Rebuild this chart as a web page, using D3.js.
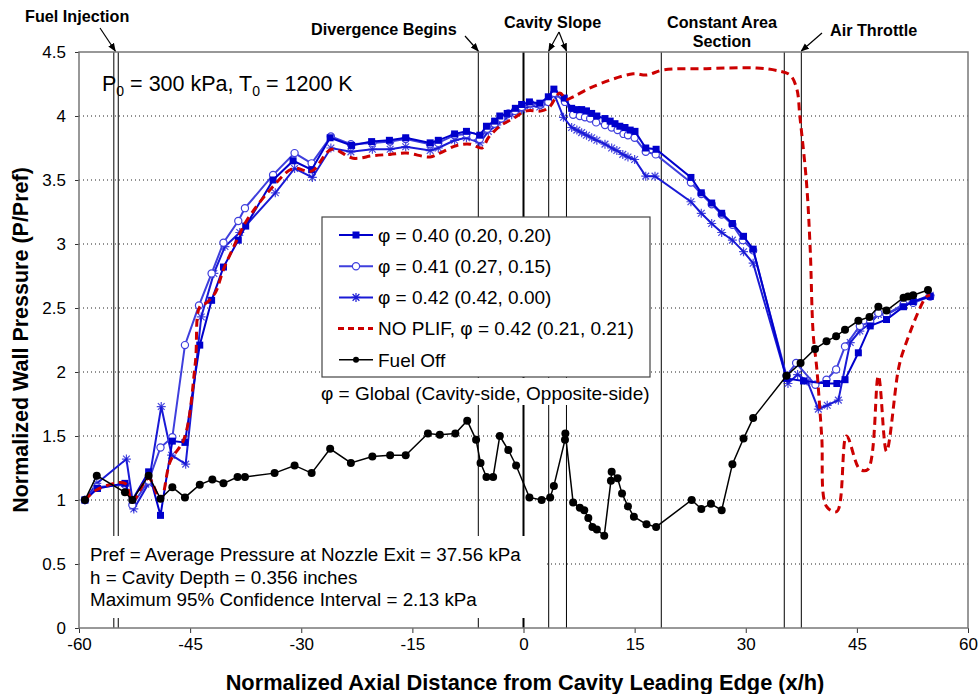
<!DOCTYPE html>
<html><head><meta charset="utf-8">
<script src="https://cdn.jsdelivr.net/npm/d3@7"></script>
<style>
body{margin:0;background:#fff;}
svg text{font-family:Arial,"Liberation Sans",sans-serif;}
</style></head>
<body><svg id="c" width="979" height="694"></svg>
<script>
// ---- data ----
const xTicks = [-60,-45,-30,-15,0,15,30,45,60];
const yTicks = [0,0.5,1,1.5,2,2.5,3,3.5,4,4.5];

const phi40 = [[-59.2,1.00],[-57.5,1.09],[-53.8,1.13],[-52.8,1.00],[-50.6,1.22],[-49.0,0.88],[-47.4,1.46],[-45.7,1.45],[-43.7,2.21],[-42.1,2.56],[-40.5,2.82],[-38.5,3.03],[-37.5,3.14],[-33.8,3.50],[-31.1,3.65],[-28.6,3.58],[-26.1,3.83],[-23.2,3.77],[-20.5,3.80],[-18.1,3.81],[-15.9,3.83],[-12.6,3.79],[-11.5,3.81],[-9.3,3.86],[-7.7,3.88],[-5.9,3.85],[-5.0,3.92],[-3.9,3.96],[-3.2,4.00],[-2.2,4.02],[-1.1,4.06],[-0.25,4.09],[0.8,4.11],[2.2,4.10],[3.35,4.15],[4.1,4.21],[5.5,4.14],[6.5,4.06],[7.2,4.05],[7.85,4.05],[8.5,4.04],[9.2,4.02],[9.9,4.00],[11.0,3.98],[11.7,3.96],[12.35,3.94],[13.0,3.92],[13.7,3.91],[14.4,3.89],[15.05,3.88],[16.5,3.75],[17.9,3.74],[22.6,3.52],[24.0,3.40],[25.4,3.32],[26.75,3.24],[28.2,3.16],[29.7,3.06],[31.0,2.96],[35.5,1.95],[37.8,1.93],[40.9,1.91],[42.3,1.91],[43.4,1.94],[45.2,2.15],[46.8,2.36],[49.0,2.41],[51.3,2.51],[52.6,2.55],[54.9,2.59]];

const phi41 = [[-59.2,1.00],[-57.6,1.10],[-53.8,1.12],[-52.8,0.96],[-50.6,1.15],[-49.0,1.41],[-47.4,1.49],[-45.7,2.21],[-43.8,2.52],[-42.1,2.77],[-40.5,3.01],[-38.5,3.18],[-37.6,3.28],[-33.8,3.54],[-30.9,3.71],[-28.6,3.63],[-26.0,3.84],[-23.3,3.78],[-20.4,3.79],[-18.0,3.80],[-15.9,3.82],[-12.6,3.78],[-11.5,3.79],[-9.3,3.85],[-7.7,3.86],[-6.8,3.84],[-5.9,3.82],[-4.9,3.90],[-3.9,3.94],[-3.0,3.98],[-2.05,4.02],[-1.15,4.04],[-0.25,4.07],[0.9,4.10],[2.3,4.09],[3.35,4.11],[4.15,4.18],[5.6,4.11],[6.7,4.01],[7.6,4.00],[8.3,3.99],[9.0,3.98],[9.8,3.95],[11.0,3.93],[11.9,3.91],[12.7,3.89],[13.5,3.86],[14.1,3.85],[15.0,3.83],[16.5,3.72],[17.85,3.70],[22.6,3.48],[24.0,3.39],[25.4,3.31],[26.75,3.23],[28.2,3.15],[29.6,3.03],[31.0,2.95],[35.5,1.97],[36.8,2.07],[39.4,1.90],[40.9,1.94],[42.2,2.02],[43.4,2.20],[45.4,2.36],[46.8,2.39],[47.9,2.46],[49.0,2.45],[51.3,2.53],[52.6,2.54],[54.9,2.59]];

const phi42 = [[-59.2,1.00],[-57.6,1.13],[-53.6,1.32],[-52.6,0.93],[-50.6,1.13],[-48.9,1.73],[-47.5,1.35],[-45.6,1.28],[-43.5,2.43],[-41.8,2.77],[-40.3,2.98],[-38.3,3.09],[-33.5,3.40],[-30.9,3.59],[-28.5,3.52],[-26.0,3.75],[-23.3,3.72],[-20.4,3.74],[-18.0,3.74],[-15.9,3.76],[-12.6,3.73],[-11.5,3.75],[-9.3,3.81],[-7.7,3.83],[-5.9,3.79],[-4.75,3.88],[-3.6,3.93],[-2.7,3.97],[-1.6,4.01],[-0.25,4.05],[0.9,4.08],[2.2,4.07],[3.35,4.11],[4.15,4.17],[5.4,3.99],[6.5,3.91],[7.2,3.89],[7.85,3.87],[8.5,3.85],[9.2,3.83],[9.9,3.81],[11.0,3.78],[11.9,3.75],[12.6,3.73],[13.4,3.70],[14.1,3.68],[15.0,3.66],[16.5,3.53],[17.75,3.53],[22.6,3.33],[24.0,3.24],[25.4,3.16],[26.75,3.09],[28.2,3.03],[29.7,2.94],[31.0,2.85],[35.7,1.91],[37.0,1.98],[38.3,1.93],[39.8,1.71],[41.0,1.74],[42.5,1.78],[44.1,2.23],[45.4,2.32],[46.8,2.38],[47.9,2.45],[49.0,2.45],[51.3,2.52],[52.6,2.55],[54.9,2.60]];

const noPlif = [[-59.2,1.00],[-57.6,1.08],[-53.8,1.13],[-52.8,0.99],[-50.6,1.17],[-49.0,1.00],[-47.7,1.30],[-45.8,1.48],[-44.3,2.07],[-43.7,2.51],[-42.8,2.54],[-41.6,2.62],[-40.5,2.80],[-38.7,3.03],[-37.4,3.18],[-33.8,3.45],[-31.1,3.59],[-28.6,3.57],[-25.9,3.74],[-23.0,3.67],[-20.3,3.69],[-18.0,3.70],[-15.8,3.71],[-12.6,3.68],[-11.3,3.71],[-9.0,3.77],[-7.2,3.78],[-5.6,3.75],[-4.75,3.83],[-3.2,3.92],[-1.4,3.98],[0.4,4.04],[2.45,4.04],[3.5,4.07],[4.9,4.18],[5.8,4.13],[6.7,4.15],[9.4,4.23],[14.8,4.33],[16.6,4.32],[18.9,4.36],[24.7,4.37],[31.5,4.375],[34.6,4.35],[36.0,4.32],[36.9,4.21],[37.3,4.0],[38.2,3.48],[38.7,2.96],[39.1,2.30],[39.6,2.02],[40.25,1.5],[40.9,0.95],[42.3,0.91],[43.6,1.50],[45.4,1.24],[46.5,1.24],[47.9,1.97],[49.0,1.38],[50.6,2.02],[51.3,2.17],[54.4,2.59],[54.9,2.60]];

const fuelOff = [[-59.2,1.00],[-57.6,1.19],[-53.8,1.06],[-52.8,1.00],[-50.6,1.19],[-49.0,1.01],[-47.4,1.10],[-45.7,1.02],[-43.7,1.12],[-42.0,1.16],[-40.5,1.13],[-38.6,1.18],[-37.6,1.18],[-33.6,1.21],[-30.9,1.27],[-28.6,1.21],[-26.1,1.40],[-23.3,1.29],[-20.4,1.34],[-18.0,1.35],[-15.9,1.35],[-12.9,1.52],[-11.3,1.51],[-9.2,1.52],[-7.6,1.62],[-6.4,1.47],[-5.8,1.29],[-5.0,1.18],[-4.1,1.18],[-3.2,1.50],[-2.05,1.39],[-1.0,1.27],[0.8,1.02],[2.45,1.00],[3.6,1.02],[4.1,1.11],[5.6,1.47],[5.65,1.52],[6.7,0.98],[7.6,0.94],[8.2,0.92],[8.75,0.86],[9.3,0.79],[9.9,0.77],[10.9,0.72],[11.8,1.15],[11.9,1.22],[12.7,1.17],[13.3,1.05],[14.1,0.95],[14.9,0.87],[16.6,0.81],[17.9,0.79],[22.7,1.00],[24.0,0.93],[25.3,0.97],[26.75,0.92],[28.2,1.28],[29.7,1.48],[31.0,1.64],[35.5,1.97],[37.4,2.07],[39.35,2.18],[40.9,2.24],[42.2,2.28],[43.4,2.33],[45.2,2.40],[46.7,2.43],[47.9,2.51],[49.0,2.48],[51.3,2.58],[51.9,2.59],[52.6,2.60],[54.6,2.64]];

// reference lines (x/h)
const refLines = [-55.3,-54.7,-6.1,0,3.4,5.8,18.6,35.2,37.5];
const legendLabels = ["φ = 0.40 (0.20, 0.20)","φ = 0.41 (0.27, 0.15)","φ = 0.42 (0.42, 0.00)","NO PLIF, φ = 0.42 (0.21, 0.21)","Fuel Off"];
const noteLines = ["Pref = Average Pressure at Nozzle Exit = 37.56 kPa","h = Cavity Depth = 0.356 inches","Maximum 95% Confidence Interval = 2.13 kPa"];

// ---- chart ----
const svg = d3.select("#c");
const L=79,R=968,T=52,B=628;
const x = d3.scaleLinear().domain([-60,60]).range([L,R]);
const y = d3.scaleLinear().domain([0,4.5]).range([B,T]);

svg.append("defs").append("marker").attr("id","arr").attr("viewBox","0 0 10 10")
  .attr("refX",9).attr("refY",5).attr("markerWidth",7).attr("markerHeight",7).attr("orient","auto")
  .append("path").attr("d","M0,1 L10,5 L0,9 z").attr("fill","#000");

// grid
svg.append("g").selectAll("line").data(yTicks.filter(d=>d>0&&d<4.5)).join("line")
  .attr("x1",L).attr("x2",R).attr("y1",d=>y(d)).attr("y2",d=>y(d))
  .attr("stroke","#222").attr("stroke-width",1).attr("stroke-dasharray","1,3");

// reference vertical lines
svg.append("g").selectAll("line").data(refLines).join("line")
  .attr("x1",d=>x(d)).attr("x2",d=>x(d)).attr("y1",T).attr("y2",B)
  .attr("stroke","#000").attr("stroke-width",d=>d===0?2:1);

// axes
const xa = svg.append("g").attr("transform",`translate(0,${B})`)
  .call(d3.axisBottom(x).tickValues(xTicks).tickSize(5).tickPadding(5).tickFormat(d=>String(d)));
const ya = svg.append("g").attr("transform",`translate(${L},0)`)
  .call(d3.axisLeft(y).tickValues(yTicks).tickSize(4).tickPadding(9).tickFormat(d=>String(d)));
[xa,ya].forEach(a=>{a.select(".domain").remove();a.selectAll("text").attr("font-size",17).attr("fill","#000").attr("font-family","Arial, 'Liberation Sans', sans-serif");a.selectAll("line").attr("stroke","#333");});
// plot frame
svg.append("rect").attr("x",L).attr("y",T).attr("width",R-L).attr("height",B-T)
  .attr("fill","none").attr("stroke","#777").attr("stroke-width",1.5);

// note box (white, covers lines)
svg.append("rect").attr("x",80).attr("y",536).attr("width",466).attr("height",82).attr("fill","#fff");
noteLines.forEach((t,i)=>svg.append("text").attr("x",90).attr("y",561+i*22.5).attr("font-size",18.8).text(t));

// series
const line = d3.line().x(d=>x(d[0])).y(d=>y(d[1]));
const smooth = d3.line().x(d=>x(d[0])).y(d=>y(d[1])).curve(d3.curveCatmullRom.alpha(0.5));
const cSq="#0000CC", cCi="#3f3fdd", cSt="#1a1ad6", cRed="#CC0000";

function starPath(cx,cy,r){
  return `M${cx-r},${cy}L${cx+r},${cy}M${cx},${cy-r}L${cx},${cy+r}M${cx-r*0.75},${cy-r*0.75}L${cx+r*0.75},${cy+r*0.75}M${cx-r*0.75},${cy+r*0.75}L${cx+r*0.75},${cy-r*0.75}`;
}

// stars
svg.append("path").datum(phi42).attr("d",line).attr("fill","none").attr("stroke",cSt).attr("stroke-width",2);
svg.append("g").selectAll("path").data(phi42).join("path")
  .attr("d",d=>starPath(x(d[0]),y(d[1]),4.5)).attr("stroke",cSt).attr("stroke-width",1.2).attr("fill","none").attr("opacity",0.8);
// circles
svg.append("path").datum(phi41).attr("d",line).attr("fill","none").attr("stroke",cCi).attr("stroke-width",2);
svg.append("g").selectAll("circle").data(phi41).join("circle")
  .attr("cx",d=>x(d[0])).attr("cy",d=>y(d[1])).attr("r",3.6).attr("fill","#fff").attr("stroke",cCi).attr("stroke-width",1.2);
// squares
svg.append("path").datum(phi40).attr("d",line).attr("fill","none").attr("stroke",cSq).attr("stroke-width",2);
svg.append("g").selectAll("rect").data(phi40).join("rect")
  .attr("x",d=>x(d[0])-3.5).attr("y",d=>y(d[1])-3.5).attr("width",7).attr("height",7).attr("fill",cSq);
// red dashed
svg.append("path").datum(noPlif).attr("d",smooth).attr("fill","none").attr("stroke",cRed).attr("stroke-width",3).attr("stroke-dasharray","8,5");
// fuel off
svg.append("path").datum(fuelOff).attr("d",line).attr("fill","none").attr("stroke","#000").attr("stroke-width",1.5);
svg.append("g").selectAll("circle").data(fuelOff).join("circle")
  .attr("cx",d=>x(d[0])).attr("cy",d=>y(d[1])).attr("r",4).attr("fill","#000");

// legend
const lg = svg.append("g");
lg.append("rect").attr("x",322).attr("y",217).attr("width",328).attr("height",160).attr("fill","#fff").attr("stroke","#444").attr("stroke-width",1.2);
lg.append("rect").attr("x",318).attr("y",378).attr("width",342).attr("height",27).attr("fill","#fff");
const styles=[{c:cSq,m:"sq",w:2},{c:cCi,m:"ci",w:2},{c:cSt,m:"st",w:2},{c:cRed,m:"dash",w:3},{c:"#000",m:"dot",w:1.5}];
legendLabels.forEach((t,i)=>{
  const yy=235+i*31.2, s=styles[i];
  const ln=lg.append("line").attr("x1",339).attr("x2",373).attr("y1",yy).attr("y2",yy).attr("stroke",s.c).attr("stroke-width",s.w);
  if(s.m==="dash") ln.attr("stroke-dasharray","6,4").attr("x1",338);
  const mx=356;
  if(s.m==="sq") lg.append("rect").attr("x",mx-3.5).attr("y",yy-3.5).attr("width",7).attr("height",7).attr("fill",s.c);
  if(s.m==="ci") lg.append("circle").attr("cx",mx).attr("cy",yy).attr("r",3.6).attr("fill","#fff").attr("stroke",s.c).attr("stroke-width",1.2);
  if(s.m==="st") lg.append("path").attr("d",starPath(mx,yy,4.5)).attr("stroke",s.c).attr("stroke-width",1.2);
  if(s.m==="dot") lg.append("circle").attr("cx",mx).attr("cy",yy).attr("r",3).attr("fill","#000");
  lg.append("text").attr("x",378).attr("y",yy).attr("dy","0.36em").attr("font-size",19).text(t);
});
lg.append("text").attr("x",321).attr("y",393).attr("dy","0.36em").attr("font-size",19).text("φ = Global (Cavity-side, Opposite-side)");

// P0/T0 text
const pt = svg.append("text").attr("x",102).attr("y",91).attr("font-size",21.5);
pt.append("tspan").text("P");
pt.append("tspan").attr("font-size",14).attr("dy",5).text("0");
pt.append("tspan").attr("dy",-5).text(" = 300 kPa, T");
pt.append("tspan").attr("font-size",14).attr("dy",5).text("0");
pt.append("tspan").attr("dy",-5).text(" = 1200 K");

// top annotations
const ann = svg.append("g").attr("font-weight","bold").attr("font-size",16.2);
ann.append("text").attr("x",25).attr("y",22).text("Fuel Injection");
ann.append("text").attr("x",311).attr("y",35).text("Divergence Begins");
ann.append("text").attr("x",504).attr("y",28).text("Cavity Slope");
ann.append("text").attr("x",722).attr("y",28).attr("text-anchor","middle").text("Constant Area");
ann.append("text").attr("x",722).attr("y",47).attr("text-anchor","middle").text("Section");
ann.append("text").attr("x",830).attr("y",36).text("Air Throttle");
const arrows=[[100,28,x(-55.1),T-1],[465,36,x(-6.1),T-1],[559,32,x(3.4),T-1],[559,32,x(5.8),T-1],[822,33,x(37.5),T-1]];
svg.append("g").selectAll("line").data(arrows).join("line")
  .attr("x1",d=>d[0]).attr("y1",d=>d[1]).attr("x2",d=>d[2]).attr("y2",d=>d[3])
  .attr("stroke","#000").attr("stroke-width",1.2).attr("marker-end","url(#arr)");

// axis titles
svg.append("text").attr("x",525).attr("y",690).attr("text-anchor","middle").attr("font-weight","bold").attr("font-size",21.8)
  .text("Normalized Axial Distance from Cavity Leading Edge (x/h)");
svg.append("text").attr("transform","translate(28,340) rotate(-90)").attr("text-anchor","middle").attr("font-weight","bold").attr("font-size",21.5)
  .text("Normalized Wall Pressure (P/Pref)");
</script></body></html>
